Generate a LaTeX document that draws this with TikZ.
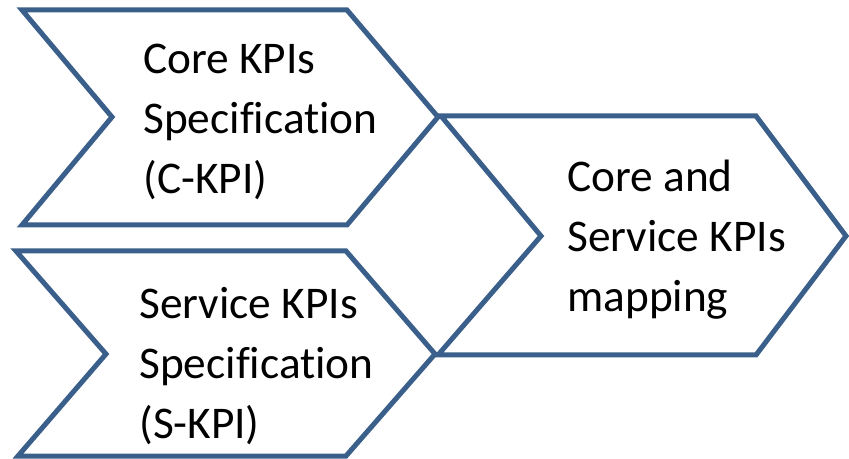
\documentclass[tikz,border=0pt]{standalone}
\usepackage{fontspec}
\setmainfont{Carlito}[Ligatures=NoCommon]
\usetikzlibrary{positioning}
\definecolor{kpiblue}{HTML}{3A5F8B}
\tikzset{
    chev/.style={draw=kpiblue, line width=3.75pt},
    lbl/.style={anchor=north west, align=left, inner sep=0pt, font=\fontsize{34}{45}\selectfont},
  }

\begin{document}
\begin{tikzpicture}[x=0.75pt, y=-0.75pt]
      \useasboundingbox (0,0) rectangle (849,459);
      % the two input steps
      \draw[chev] (22,10) -- (347,10) -- (438,117) -- (347,225) -- (22,225) -- (112,117) -- cycle;
      \draw[chev] (16,251) -- (346,251) -- (435,354) -- (346,456) -- (18,456) -- (106,354) -- cycle;
      % the mapping step
      \draw[chev] (441,116) -- (756,116) -- (846,236) -- (756,355) -- (438,355) -- (541,236) -- cycle;

      \node (ckpi) [lbl] at (143,44) {Core KPIs\\Specification\\(C-KPI)};
      \node (skpi) [lbl] at (139,287) {Service KPIs\\Specification\\(S-KPI)};
      \node (map) [lbl] at (567,160) {Core and\\Service KPIs\\mapping};
  \end{tikzpicture}
\end{document}
